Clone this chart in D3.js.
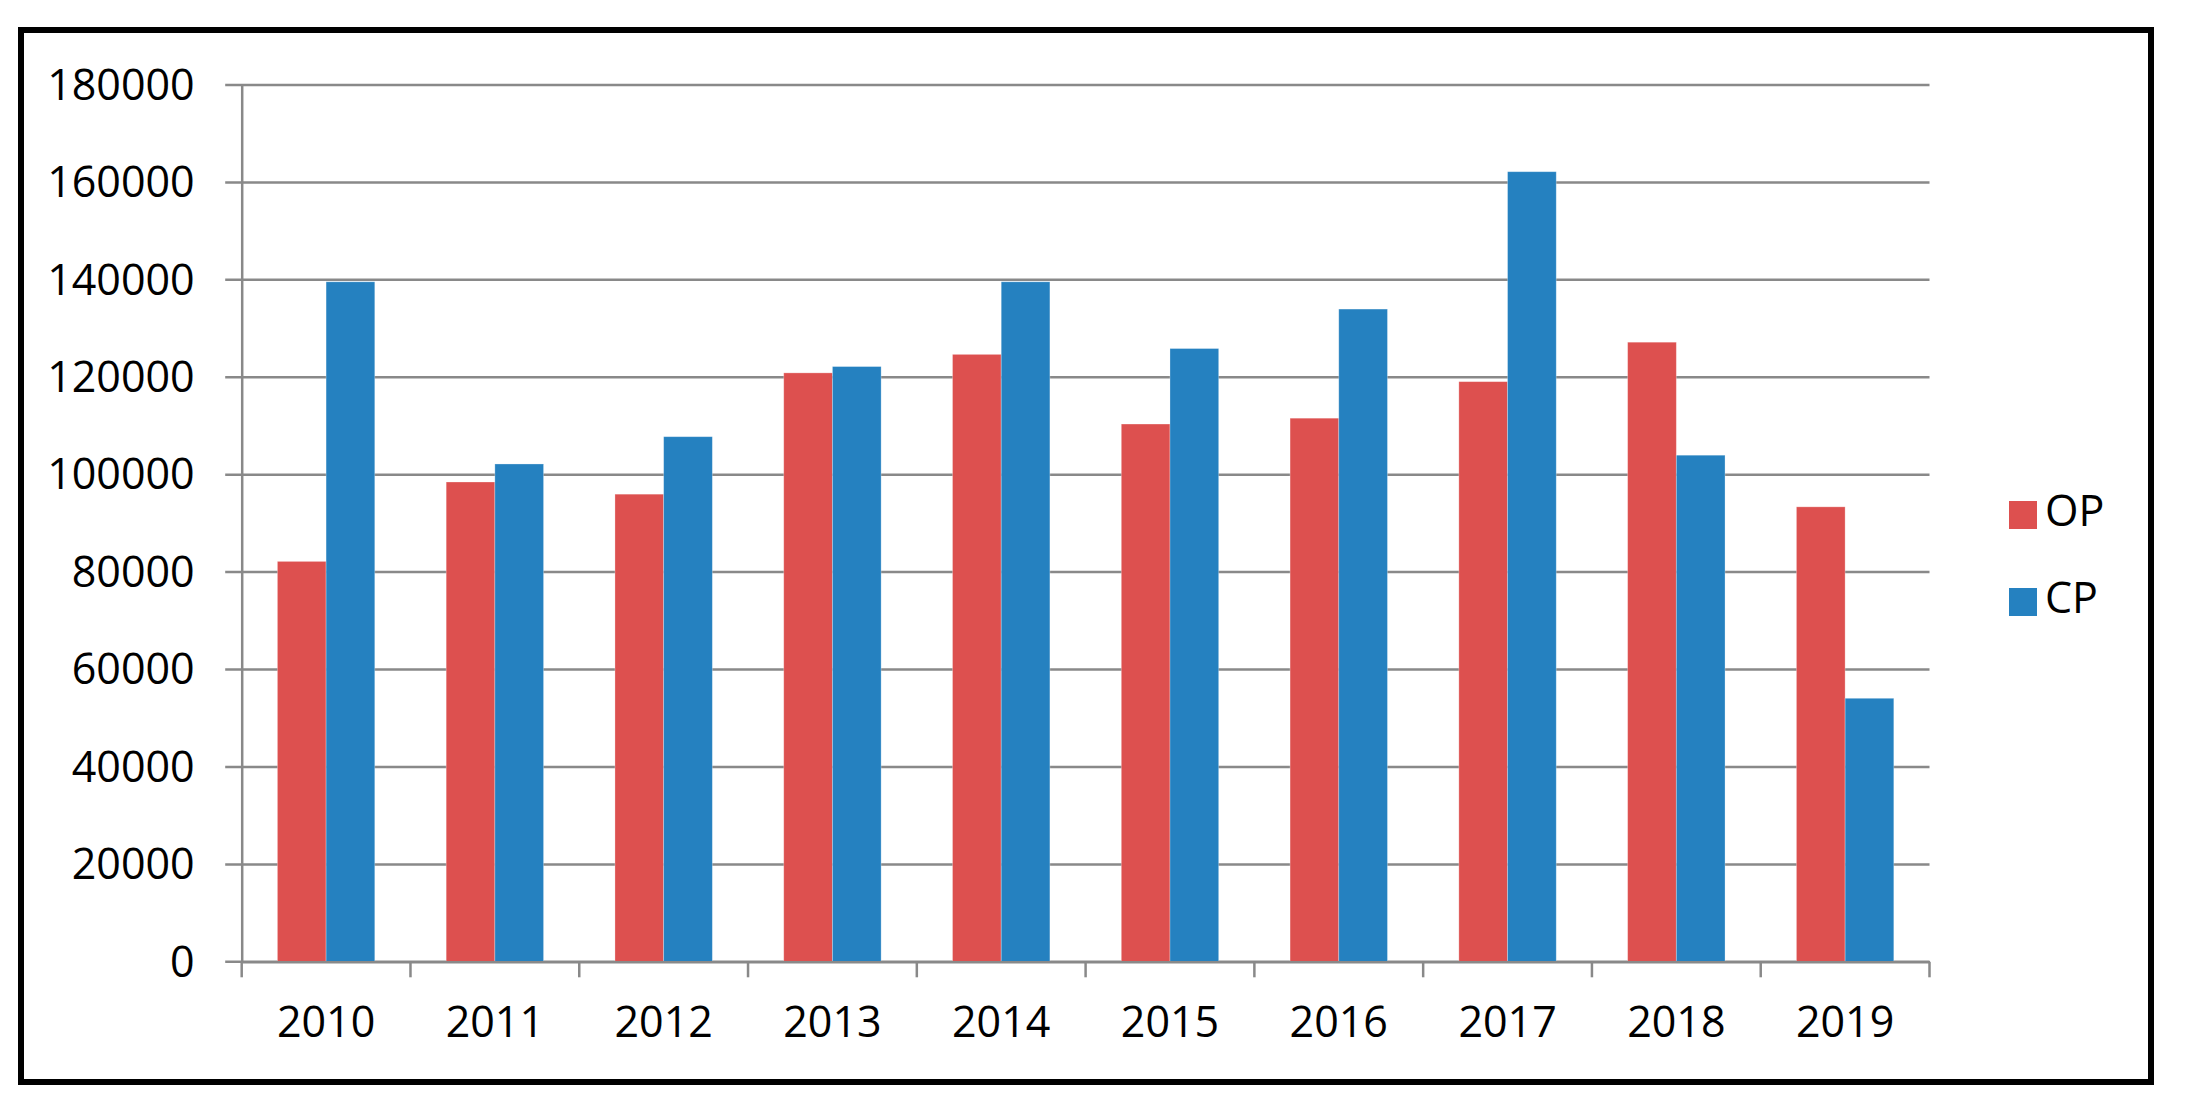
<!DOCTYPE html>
<html>
<head>
<meta charset="utf-8">
<script src="https://cdn.jsdelivr.net/npm/d3@7"></script>
<style>
  html, body { margin: 0; padding: 0; background: #ffffff; }
  svg { display: block; }
  text { font-family: "Open Sans", "Noto Sans", sans-serif; fill: #000; }
</style>
</head>
<body>
<svg id="chart" width="2186" height="1113"></svg>
<script>
// ---- data ----
const years = ["2010","2011","2012","2013","2014","2015","2016","2017","2018","2019"];
const seriesNames = ["OP", "CP"];
const opValues = [82200, 98500, 96000, 120900, 124700, 110400, 111600, 119100, 127200, 93400];
const cpValues = [139600, 102200, 107800, 122200, 139600, 125900, 134000, 162200, 104000, 54100];
const yTicks = [0, 20000, 40000, 60000, 80000, 100000, 120000, 140000, 160000, 180000];
const seriesColors = ["#DD504F", "#2581C0"];

// ---- layout ----
const W = 2186, H = 1113;
const plotLeft = 241.7, plotRight = 1929.5, plotTop = 85, plotBottom = 961.8;
const fontSize = 43;

const svg = d3.select("#chart");
svg.append("rect").attr("x", 0).attr("y", 0).attr("width", W).attr("height", H).attr("fill", "#fff");

// outer frame
svg.append("rect")
  .attr("x", 21).attr("y", 30).attr("width", 2130).attr("height", 1052)
  .attr("fill", "none").attr("stroke", "#000").attr("stroke-width", 6);

const x0 = d3.scaleBand().domain(years).range([plotLeft, plotRight]).padding(0);
const x1 = d3.scaleBand().domain(seriesNames).range([0, x0.bandwidth()]).paddingInner(0).paddingOuter(0.733);
const y = d3.scaleLinear().domain([0, 180000]).range([plotBottom, plotTop]);
const color = d3.scaleOrdinal().domain(seriesNames).range(seriesColors);

const gridColor = "#898989";

// gridlines (extend left as tick marks)
svg.append("g").selectAll("line").data(yTicks).join("line")
  .attr("x1", plotLeft - 16.5).attr("x2", plotRight)
  .attr("y1", d => y(d)).attr("y2", d => y(d))
  .attr("stroke", gridColor).attr("stroke-width", 2.5);

// bars
const rows = years.map((yr, i) => ({ year: yr, values: [
  { key: "OP", value: opValues[i] },
  { key: "CP", value: cpValues[i] }
]}));

const groups = svg.append("g").selectAll("g").data(rows).join("g")
  .attr("transform", d => `translate(${x0(d.year)},0)`);
groups.selectAll("rect").data(d => d.values).join("rect")
  .attr("x", d => x1(d.key))
  .attr("width", x1.bandwidth())
  .attr("y", d => y(d.value))
  .attr("height", d => y(0) - y(d.value))
  .attr("fill", d => color(d.key))
  .attr("stroke", "rgba(255,255,255,0.35)")
  .attr("stroke-width", 0.8);

// y axis
const yAxis = svg.append("g").attr("transform", `translate(${plotLeft},0)`)
  .call(d3.axisLeft(y).tickValues(yTicks).tickFormat(d3.format("d")).tickSize(0).tickPadding(47));
yAxis.select(".domain").attr("stroke", gridColor).attr("stroke-width", 2.5);
yAxis.selectAll("text")
  .attr("font-size", fontSize)
  .attr("font-family", "'Open Sans', sans-serif")
  .attr("fill", "#000")
  .attr("dy", "0.33em");

// x axis
const xAxis = svg.append("g").attr("transform", `translate(0,${plotBottom})`)
  .call(d3.axisBottom(x0).tickSize(0).tickSizeOuter(0));
xAxis.select(".domain").attr("stroke", gridColor).attr("stroke-width", 2.5);
xAxis.selectAll("text")
  .attr("font-size", fontSize)
  .attr("font-family", "'Open Sans', sans-serif")
  .attr("fill", "#000")
  .attr("y", 75).attr("dy", 0);

// category boundary ticks
const boundaries = years.map(d => x0(d)).concat([plotRight]);
svg.append("g").selectAll("line").data(boundaries).join("line")
  .attr("x1", d => d).attr("x2", d => d)
  .attr("y1", plotBottom).attr("y2", plotBottom + 15.5)
  .attr("stroke", gridColor).attr("stroke-width", 2.5);

// legend
const legend = svg.append("g").attr("transform", "translate(2009,0)");
const legendY = [501, 588];
const legendItems = legend.selectAll("g").data(seriesNames).join("g")
  .attr("transform", (d, i) => `translate(0,${legendY[i]})`);
legendItems.append("rect")
  .attr("width", 28).attr("height", 28)
  .attr("fill", d => color(d));
legendItems.append("text")
  .attr("x", 36).attr("y", 25)
  .attr("font-size", fontSize)
  .text(d => d);
</script>
</body>
</html>
